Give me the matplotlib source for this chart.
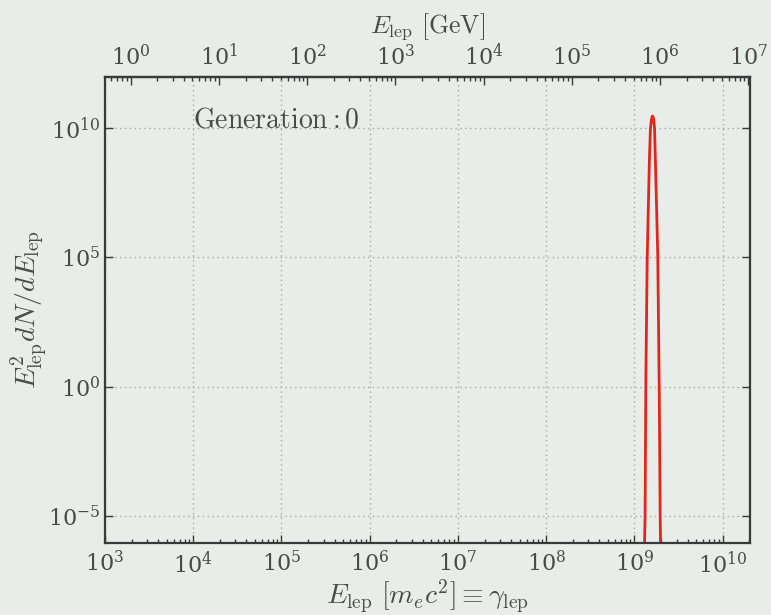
import matplotlib
matplotlib.use("Agg")
import matplotlib.pyplot as plt
import numpy as np

plt.rcParams['mathtext.fontset'] = 'cm'
plt.rcParams['font.family'] = ['DejaVu Serif']

# Spectrum: log10(gamma), log10(E^2 dN/dE)
log_gamma = [9.115, 9.121, 9.129, 9.145, 9.170, 9.182, 9.192, 9.199, 9.205,
             9.212, 9.219, 9.228, 9.245, 9.265, 9.281, 9.292, 9.296]
log_flux = [-6.05, -5.0, 0.0, 5.0, 8.8, 10.0, 10.3, 10.43, 10.47,
            10.43, 10.3, 10.0, 7.8, 5.0, 0.0, -5.0, -6.05]

gen_label = r'$\mathrm{Generation}:0$'
ME_GEV = 0.511e-3

bg = '#e8edea'
txt = '#4a4a4a'
spine_c = '#3a3a3a'

fig = plt.figure(figsize=(7.71, 6.15), dpi=100, facecolor=bg)
ax = fig.add_axes([105/771, 1-543/615, (750-105)/771, (543-77)/615])
ax.set_facecolor(bg)

x = 10**np.array(log_gamma)
y = 10**np.array(log_flux)
ax.plot(x, y, color='#e3261b', lw=2.0, solid_joinstyle='round')

ax.set_xscale('log')
ax.set_yscale('log')
ax.set_xlim(1e3, 10**10.31)
ax.set_ylim(10**-6.05, 10**11.98)

ax.set_yticks([1e-5, 1e0, 1e5, 1e10])
ax.yaxis.set_minor_locator(matplotlib.ticker.NullLocator())
ax.set_xticks([10.0**k for k in range(3, 11)])
ax.xaxis.set_minor_locator(matplotlib.ticker.LogLocator(base=10, subs=np.arange(2, 10), numticks=30))

ax.grid(True, which='major', ls=(0, (1, 2.5)), color='#a8a8a8', lw=1.0)

ax.tick_params(which='both', direction='in', colors=spine_c, labelcolor=txt, labelsize=16)
ax.tick_params(axis='y', which='both', left=True, right=True)
ax.tick_params(axis='x', which='both', top=False, bottom=True)
ax.tick_params(which='major', length=6, width=1)
ax.tick_params(which='minor', length=3, width=1)
ax.tick_params(axis='x', pad=6)

for s in ax.spines.values():
    s.set_color(spine_c)
    s.set_linewidth(1.6)

sec = ax.secondary_xaxis('top', functions=(lambda g: g*ME_GEV, lambda e: e/ME_GEV))
sec.set_xscale('log')
sec.set_xticks([10.0**k for k in range(0, 8)])
sec.xaxis.set_minor_locator(matplotlib.ticker.LogLocator(base=10, subs=np.arange(2, 10), numticks=30))
sec.tick_params(which='both', direction='in', colors=spine_c, labelcolor=txt, labelsize=16)
sec.tick_params(which='major', length=6, width=1, pad=5)
sec.tick_params(which='minor', length=3, width=1)
sec.spines['top'].set_color(spine_c)
sec.spines['top'].set_linewidth(1.6)
sec.set_xlabel(r'$E_{\rm lep}\ [{\rm GeV}]$', fontsize=18.5, color=txt, labelpad=8)

ax.set_xlabel(r'$E_{\rm lep}\ [m_e c^2] \equiv \gamma_{\rm lep}$', fontsize=20, color=txt, labelpad=0)
ax.set_ylabel(r'$E_{\rm lep}^2 dN/dE_{\rm lep}$', fontsize=20, color=txt, labelpad=0)

ax.text(0.136, 0.908, gen_label, transform=ax.transAxes,
        fontsize=20, color=txt, ha='left', va='center')

fig.savefig('out.png', dpi=100, facecolor=bg)
